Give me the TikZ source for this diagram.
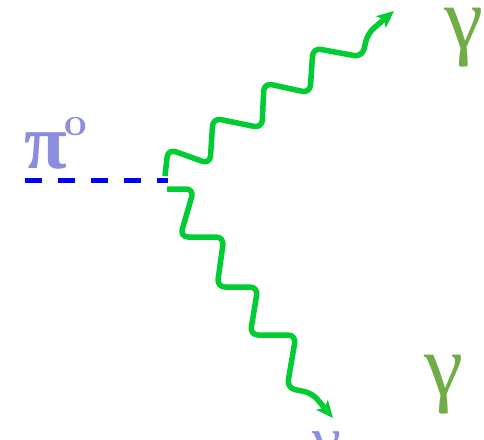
\documentclass[tikz,border=0pt]{standalone}
\usepackage{fontspec}
\newfontfamily\gfont{Liberation Serif}
\usetikzlibrary{arrows.meta}
\definecolor{photon}{RGB}{0,204,51}
\definecolor{pionblue}{RGB}{0,0,255}
\definecolor{lav}{RGB}{140,140,225}
\definecolor{gam}{RGB}{112,173,71}
\tikzset{
  photonline/.style={draw=photon,line width=5.5pt,rounded corners=8pt,line join=round,
    -{Stealth[length=17pt,width=15pt,inset=4pt]}},
  pionline/.style={draw=pionblue,line width=5pt,dash pattern=on 17pt off 16pt},
  gammalabel/.style={text=gam,inner sep=0pt,anchor=base,text height=0.48em,text depth=0.2em,
    font=\gfont\fontsize{88pt}{88pt}\selectfont},
  pilabel/.style={text=lav,inner sep=0pt,anchor=base west,text height=0.45em,text depth=0pt,
    font=\gfont\bfseries\fontsize{78pt}{78pt}\selectfont},
  supo/.style={text=lav,inner sep=0pt,anchor=base,text height=0.45em,text depth=0pt,
    font=\bfseries\fontsize{40pt}{40pt}\selectfont}
}
\begin{document}
\begin{tikzpicture}[x=1pt,y=-1pt]
\useasboundingbox (0,0) rectangle (484,439);
\coordinate (pstart) at (25,180);
\coordinate (v) at (168,180);
\coordinate (t0) at (165,176);
\coordinate (t1) at (394,11);
\coordinate (b0) at (167,189);
\coordinate (b1) at (333,418);
\draw[pionline] (pstart) -- (v);
\draw[photonline] (t0) -- (168,149) -- (210,164) -- (213,118) -- (262,128) -- (264,83)
  -- (310,93) -- (313,48) -- (362,57) -- (368,33) -- (t1);
\draw[photonline] (b0) -- (194,189) -- (180,237) -- (224,237) -- (217,287) -- (258,287)
  -- (250,335) -- (296,335) -- (287,388) -- (312,393) -- (b1);
\node[pilabel] (pion) at (24,168) {π};
\node[supo] (o) at (76,135) {o};
\node[gammalabel] (g1) at (464,48) {γ};
\node[gammalabel] (g2) at (444,395) {γ};
\begin{scope}
\clip (0,0) rectangle (484,439);
\node[gammalabel,text=lav,font=\gfont\fontsize{65pt}{65pt}\selectfont] (g3) at (327,461) {γ};
\end{scope}
\end{tikzpicture}
\end{document}
